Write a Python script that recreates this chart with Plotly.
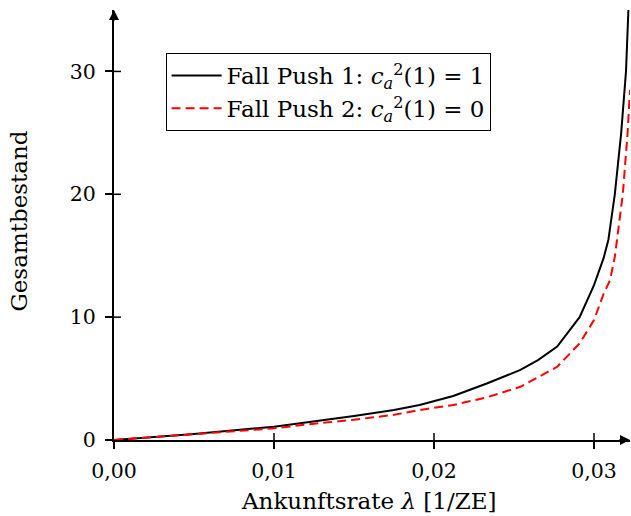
import plotly.graph_objects as go

# Data
lam_push1 = [0, 0.005, 0.01, 0.0125, 0.015, 0.0175, 0.0191, 0.0212, 0.0233, 0.0254,
             0.0265, 0.0277, 0.0291, 0.0300, 0.0306, 0.0309, 0.0313, 0.0317, 0.0320, 0.03215]
bestand_push1 = [0, 0.49, 1.08, 1.5, 1.95, 2.45, 2.85, 3.58, 4.6, 5.7,
                 6.5, 7.6, 10.0, 12.6, 14.8, 16.3, 20.0, 25.0, 30.0, 35.0]

lam_push2 = [0, 0.005, 0.01, 0.0125, 0.015, 0.0175, 0.0191, 0.0212, 0.0233, 0.0254,
             0.0262, 0.0277, 0.0291, 0.0300, 0.0306, 0.0310, 0.0313, 0.0318, 0.0321, 0.03225]
bestand_push2 = [0, 0.45, 0.95, 1.33, 1.65, 2.05, 2.44, 2.85, 3.47, 4.33,
                 4.88, 5.96, 7.86, 9.76, 11.9, 13.0, 14.9, 20.0, 25.0, 28.5]

x_tickvals = [0.0, 0.01, 0.02, 0.03]
x_ticktext = ["0,00", "0,01", "0,02", "0,03"]
y_tickvals = [0, 10, 20, 30]
y_ticktext = ["0", "10", "20", "30"]

x_range = [0, 0.03225]
y_range = [0, 35]

series_names = [
    "Fall Push 1: <i>c</i><sub><i>a</i></sub><sup>2</sup>(1) = 1",
    "Fall Push 2: <i>c</i><sub><i>a</i></sub><sup>2</sup>(1) = 0",
]

FONT = "DejaVu Serif"
NFS = 20.5
TFS = 23

fig = go.Figure()
fig.add_trace(go.Scatter(x=lam_push1, y=bestand_push1, mode="lines",
                         name=series_names[0],
                         line=dict(color="black", width=2)))
fig.add_trace(go.Scatter(x=lam_push2, y=bestand_push2, mode="lines",
                         name=series_names[1],
                         line=dict(color="#ff0000", width=2, dash="9px,5px")))

fig.update_layout(
    width=631, height=516,
    margin=dict(l=114, r=1, t=10, b=76, autoexpand=False),
    plot_bgcolor="white", paper_bgcolor="white",
    font=dict(family=FONT, size=NFS, color="black"),
    showlegend=True,
    legend=dict(x=0.1, y=0.9, xanchor="left", yanchor="top",
                bordercolor="black", borderwidth=1, bgcolor="white",
                font=dict(family=FONT, size=TFS), tracegroupgap=0,
                itemwidth=50),
    xaxis=dict(range=x_range, tickvals=x_tickvals, ticktext=x_ticktext,
               automargin=False,
               showgrid=False, zeroline=False, showline=True, linecolor="black",
               linewidth=2, ticks="outside", ticklen=7, tickwidth=1.5,
               tickcolor="black", ticklabelstandoff=4),
    yaxis=dict(range=y_range, tickvals=y_tickvals, ticktext=y_ticktext,
               automargin=False,
               showgrid=False, zeroline=False, showline=True, linecolor="black",
               linewidth=2, ticks="outside", ticklen=7, tickwidth=1.5,
               tickcolor="black", ticklabelstandoff=5),
)

# inner half of the ticks (pgfplots style ticks cross the axis)
for v in x_tickvals[1:]:
    fig.add_shape(type="line", xref="x", x0=v, x1=v, yref="y", ysizemode="pixel",
                  yanchor=0, y0=0, y1=7, line=dict(color="black", width=1.5))
for v in y_tickvals[1:]:
    fig.add_shape(type="line", yref="y", y0=v, y1=v, xref="x", xsizemode="pixel",
                  xanchor=0, x0=0, x1=7, line=dict(color="black", width=1.5))

# axis arrows
fig.add_annotation(x=1, y=0, xref="paper", yref="paper", ax=-12, ay=0,
                   showarrow=True, arrowhead=2, arrowsize=1, arrowwidth=2,
                   arrowcolor="black", text="")
fig.add_annotation(x=0, y=1, xref="paper", yref="paper", ax=0, ay=12,
                   showarrow=True, arrowhead=2, arrowsize=1, arrowwidth=2,
                   arrowcolor="black", text="")

# axis titles
fig.add_annotation(x=0.493, y=-0.143, xref="paper", yref="paper",
                   text="Ankunftsrate <i>λ</i> [1/ZE]", showarrow=False,
                   font=dict(family=FONT, size=TFS), xanchor="center", yanchor="middle")
fig.add_annotation(x=-0.184, y=0.508, xref="paper", yref="paper",
                   text="Gesamtbestand", showarrow=False, textangle=-90,
                   font=dict(family=FONT, size=TFS), xanchor="center", yanchor="middle")

fig.write_html("out.html", config={"displayModeBar": False},
               post_script="document.body.style.margin='0';document.body.style.padding='0';")
